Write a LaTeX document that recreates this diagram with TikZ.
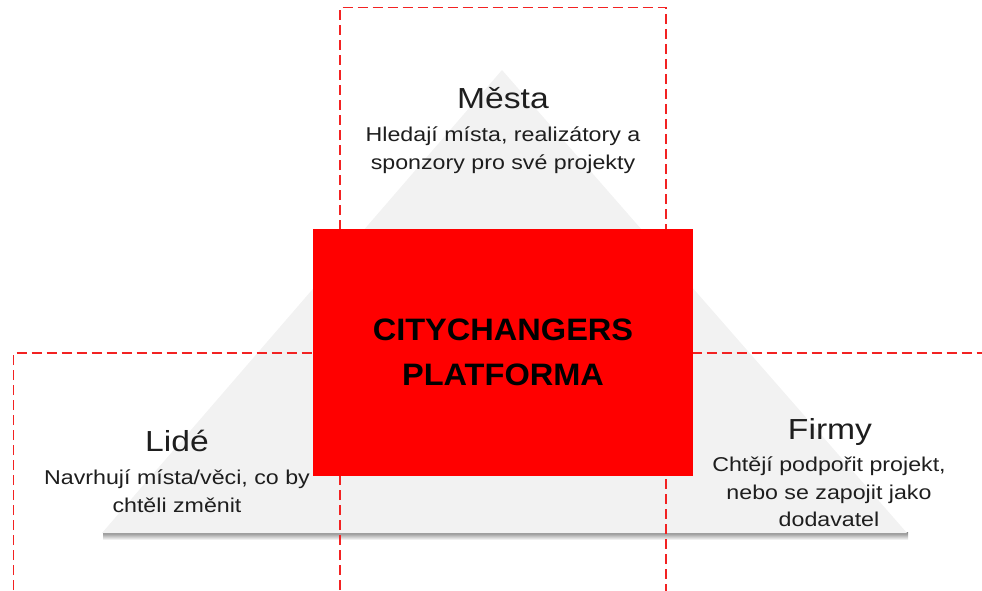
\documentclass[tikz,border=0pt]{standalone}
\usepackage{fontspec}
\newfontfamily\descfont{Liberation Sans}[FakeStretch=1.16]
\newfontfamily\platfont{Liberation Sans}[FakeStretch=1.05]
\definecolor{dashred}{HTML}{F22222}
\definecolor{trigray}{HTML}{F2F2F2}
\definecolor{txt}{HTML}{1E1E1E}
\begin{document}
\begin{tikzpicture}[x=1pt,y=-1pt,
  dashbox/.style={draw=dashred, line width=1.2pt, dash pattern=on 10pt off 5pt},
  ttl/.style={font=\descfont\fontsize{29}{34}\selectfont, text=txt, anchor=base, inner sep=0pt},
  dsc/.style={font=\descfont\fontsize{20}{27.5}\selectfont, text=txt, anchor=base, inner sep=0pt},
  platbox/.style={fill={rgb,255:red,255;green,0;blue,0}, minimum width=380pt, minimum height=247pt,
    inner sep=0pt, align=center, text=black,
    font=\platfont\bfseries\fontsize{31}{45}\selectfont}]
\useasboundingbox (0,0) rectangle (982,591);
\clip (0,0) rectangle (982,591);
% triangle with shadow under its base
\shade[top color=black!45, bottom color=white] (103,532.5) rectangle (908,540);
\fill[trigray] (502,70) -- (907,533) -- (102,533) -- cycle;
% dashed frames
\draw[dashbox] (340,620) -- (340,7.5) -- (666,7.5) -- (666,620);
\draw[dashbox] (13.5,620) -- (13.5,353) -- (1000,353);
% central box
\node[platbox] (plat) at (503,352) {CITYCHANGERS\\PLATFORMA};
% Mesta
\node[ttl] (mesta) at (503,108.3) {Města};
\node[dsc] (mesta1) at (503,141.7) {Hledají místa, realizátory a};
\node[dsc] (mesta2) at (503,169.2) {sponzory pro své projekty};
% Lide
\node[ttl] (lide) at (177,451.7) {Lidé};
\node[dsc] (lide1) at (177,484.5) {Navrhují místa/věci, co by};
\node[dsc] (lide2) at (177,512) {chtěli změnit};
% Firmy
\node[ttl] (firmy) at (830,439) {Firmy};
\node[dsc] (firmy1) at (829,471.7) {Chtějí podpořit projekt,};
\node[dsc] (firmy2) at (829,499.2) {nebo se zapojit jako};
\node[dsc] (firmy3) at (829,526.7) {dodavatel};
\end{tikzpicture}
\end{document}
